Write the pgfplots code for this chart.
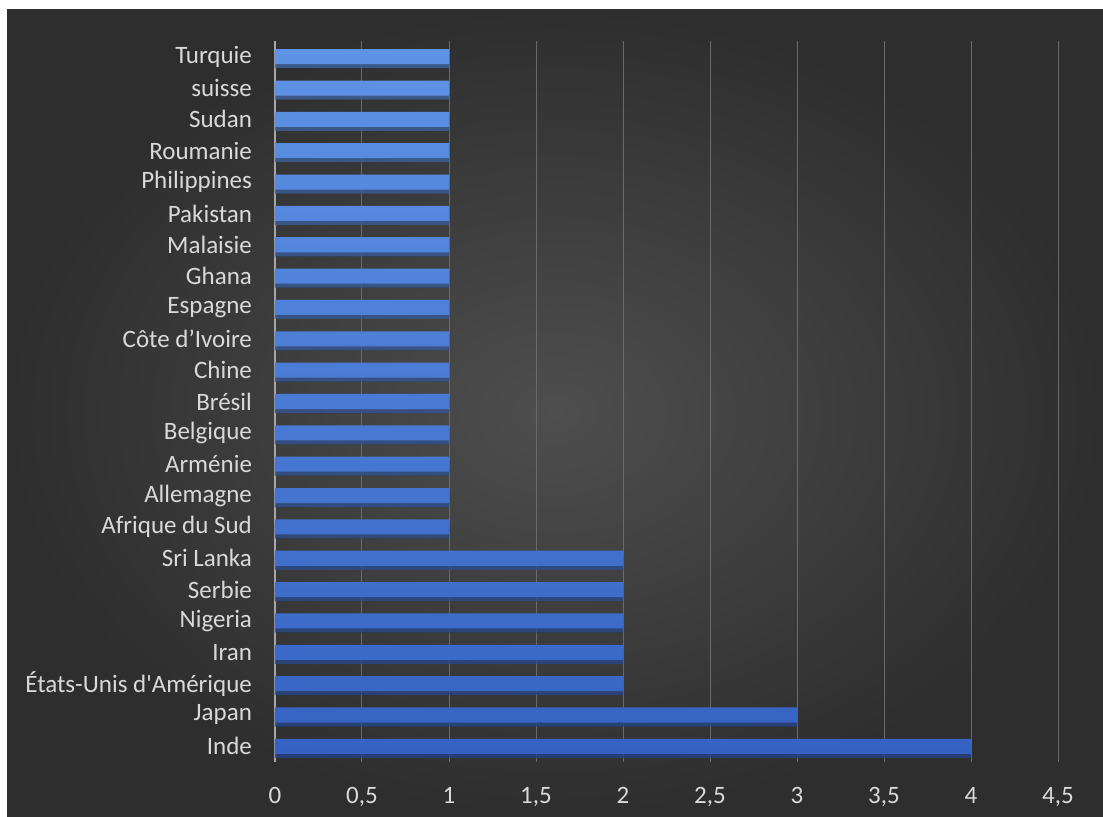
\documentclass[border=0pt]{standalone}
\usepackage{pgfplots}
\pgfplotsset{compat=1.18}
\usepackage{fontspec}
\setmainfont{Carlito}
\usetikzlibrary{shadows}
\definecolor{bgin}{HTML}{4E4E4E}
\definecolor{bgout}{HTML}{2E2E2E}
\definecolor{gridc}{HTML}{6A6A6A}
\definecolor{axc}{HTML}{A6A6A6}
\definecolor{lbl}{HTML}{D9D9D9}
\definecolor{barTop}{HTML}{5E93E6}
\definecolor{barBot}{HTML}{3562C2}
\begin{document}
\begin{tikzpicture}[x=1pt,y=1pt]
\fill[white] (0,0) rectangle (551.5,408);
\shade[inner color=bgin, outer color=bgout] (3.5,0) rectangle (551.5,403);
\begin{axis}[
  at={(137.5pt,27pt)}, anchor=south west,
  scale only axis, width=391.5pt, height=360.5pt,
  xbar, bar width=0.48,
  xmin=0, xmax=4.5, ymin=-0.5, ymax=22.5,
  xtick={0,0.5,...,4.5},
  ytick={0,...,22},
  yticklabels={Inde,Japan,{États-Unis d\textquotesingle Amérique},Iran,Nigeria,Serbie,Sri Lanka,Afrique du Sud,Allemagne,Arménie,Belgique,Brésil,Chine,Côte d’Ivoire,Espagne,Ghana,Malaisie,Pakistan,Philippines,Roumanie,Sudan,suisse,Turquie},
  axis lines*=left,
  x axis line style={draw=none},
  y axis line style={draw=axc, line width=0.8pt},
  xmajorgrids, grid style={draw=gridc, line width=0.5pt},
  major tick length=0pt, tick style={draw=none},
  tick label style={font=\fontsize{12.5}{14}\selectfont, text=lbl},
  yticklabel style={xshift=-8pt},
  xticklabel style={yshift=-9pt},
  /pgf/number format/use comma,
  /pgf/number format/assume math mode=true,
  clip=false,
]
\addplot[draw=none, top color=barTop, bottom color=barBot,
  drop shadow={shadow xshift=0pt, shadow yshift=-2pt, opacity=0.55, fill=black}]
coordinates {
(4,0) (3,1) (2,2) (2,3) (2,4) (2,5) (2,6)
(1,7) (1,8) (1,9) (1,10) (1,11) (1,12) (1,13) (1,14) (1,15)
(1,16) (1,17) (1,18) (1,19) (1,20) (1,21) (1,22)
};
\end{axis}
\end{tikzpicture}
\end{document}
